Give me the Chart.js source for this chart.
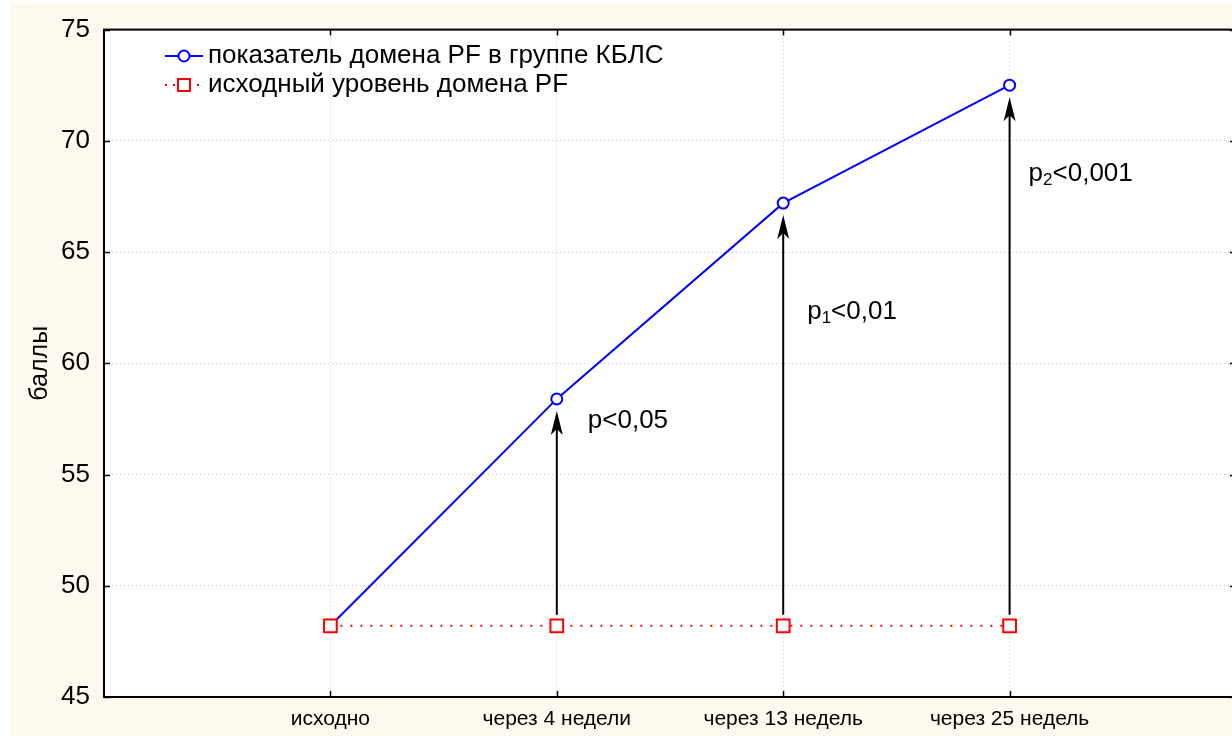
<!DOCTYPE html>
<html>
<head>
<meta charset="utf-8">
<script src="https://cdn.jsdelivr.net/npm/chart.js@4/dist/chart.umd.min.js"></script>
<style>
    html, body { margin: 0; padding: 0; overflow: hidden; background: #fdf9ef; }
    canvas { display: block; }
</style>
</head>
<body>
<canvas id="pfChart" width="1236" height="736"></canvas>
<script>
const categories = ['исходно', 'через 4 недели', 'через 13 недель', 'через 25 недель'];
const pfGroup = [48.2, 58.4, 67.2, 72.5];
const pfBaseline = [48.2, 48.2, 48.2, 48.2];
const yTicks = [45, 50, 55, 60, 65, 70, 75];
const seriesNames = ['показатель домена PF в группе КБЛС', 'исходный уровень домена PF'];

// arrows from baseline up to the group value, with their p-value notes
const arrowAt = [1, 2, 3];
const pSubs = ['', '1', '2'];
const pTails = ['<0,05', '<0,01', '<0,001'];
const pLevels = [57.4, 62.3, 68.5];

const FONT = 'Liberation Sans, Arial, sans-serif';
const BLUE = '#0000ff';
const RED = '#ff0000';

const points = (arr) => arr.map((v, i) => ({ x: i, y: v }));

// page + plot backgrounds
const backdrop = {
    id: 'backdrop',
    beforeDraw(chart) {
        const { ctx, chartArea: a, width, height } = chart;
        ctx.save();
        ctx.fillStyle = '#fdf9ef';
        ctx.fillRect(0, 0, width, height);
        ctx.fillStyle = '#ffffff';
        ctx.fillRect(0, 0, width, 3);
        ctx.fillRect(0, 0, 10, height);
        ctx.fillRect(a.left, a.top, a.right - a.left, a.bottom - a.top);
        ctx.restore();
    }
};

// frame with inward tick marks
const frame = {
    id: 'frame',
    afterDraw(chart) {
        const { ctx, chartArea: a, scales: { x, y } } = chart;
        ctx.save();
        ctx.strokeStyle = '#000';
        ctx.lineWidth = 2;
        ctx.strokeRect(a.left, a.top, a.right - a.left, a.bottom - a.top);
        ctx.lineWidth = 1.5;
        ctx.beginPath();
        categories.forEach((c, i) => {
            const px = Math.round(x.getPixelForValue(i)) + 0.5;
            ctx.moveTo(px, a.bottom); ctx.lineTo(px, a.bottom - 6);
            ctx.moveTo(px, a.top); ctx.lineTo(px, a.top + 6);
        });
        yTicks.forEach(v => {
            const py = Math.round(y.getPixelForValue(v)) + 0.5;
            ctx.moveTo(a.left, py); ctx.lineTo(a.left + 6, py);
            ctx.moveTo(a.right, py); ctx.lineTo(a.right - 6, py);
        });
        ctx.stroke();
        ctx.restore();
    }
};

// arrows, p-notes and the legend box
const notes = {
    id: 'notes',
    afterDatasetsDraw(chart) {
        const { ctx, scales: { x, y } } = chart;
        const textShift = [31, 24, 19]; // px right of each arrow
        ctx.save();
        ctx.strokeStyle = '#000';
        ctx.fillStyle = '#000';
        arrowAt.forEach((i, k) => {
            const px = x.getPixelForValue(i);
            const yStart = y.getPixelForValue(pfBaseline[i]) - 11;
            const tip = y.getPixelForValue(pfGroup[i]) + 12;
            ctx.lineWidth = 2;
            ctx.beginPath();
            ctx.moveTo(px, yStart);
            ctx.lineTo(px, tip + 15);
            ctx.stroke();
            ctx.beginPath();
            ctx.moveTo(px, tip);
            ctx.lineTo(px - 6, tip + 24);
            ctx.lineTo(px, tip + 18);
            ctx.lineTo(px + 6, tip + 24);
            ctx.closePath();
            ctx.fill();

            // p-value text
            const tx = px + textShift[k];
            const ty = y.getPixelForValue(pLevels[k]);
            ctx.textBaseline = 'middle';
            ctx.textAlign = 'left';
            ctx.font = '26px ' + FONT;
            ctx.fillText('p', tx, ty);
            let cx = tx + ctx.measureText('p').width;
            if (pSubs[k]) {
                ctx.font = '17px ' + FONT;
                ctx.fillText(pSubs[k], cx, ty + 6);
                cx += ctx.measureText(pSubs[k]).width;
                ctx.font = '26px ' + FONT;
            }
            ctx.fillText(pTails[k], cx, ty);
        });

        // legend
        const rows = [56, 85];
        ctx.font = '26px ' + FONT;
        ctx.textBaseline = 'middle';
        rows.forEach((ry, r) => {
            ctx.lineWidth = 2;
            if (r === 0) {
                ctx.strokeStyle = BLUE;
                ctx.setLineDash([]);
                ctx.beginPath(); ctx.moveTo(165, ry); ctx.lineTo(203, ry); ctx.stroke();
                ctx.fillStyle = '#fff';
                ctx.beginPath(); ctx.arc(184, ry, 5.5, 0, Math.PI * 2); ctx.fill(); ctx.stroke();
            } else {
                ctx.strokeStyle = RED;
                ctx.setLineDash([2, 6]);
                ctx.beginPath(); ctx.moveTo(165, ry); ctx.lineTo(203, ry); ctx.stroke();
                ctx.setLineDash([]);
                ctx.fillStyle = '#fff';
                ctx.fillRect(178, ry - 6, 12, 12);
                ctx.strokeRect(178, ry - 6, 12, 12);
            }
            ctx.fillStyle = '#000';
            ctx.fillText(seriesNames[r], 208, ry);
        });
        ctx.restore();
    }
};

const tickFont = { family: FONT, size: 26 };

const chart = new Chart(document.getElementById('pfChart'), {
    type: 'line',
    data: {
        datasets: [
            {
                label: seriesNames[0],
                data: points(pfGroup),
                borderColor: BLUE,
                borderWidth: 2,
                tension: 0,
                pointStyle: 'circle',
                pointRadius: 5.5,
                pointBorderWidth: 2,
                pointBackgroundColor: '#fff',
                pointBorderColor: BLUE,
                order: 2
            },
            {
                label: seriesNames[1],
                data: points(pfBaseline),
                borderColor: RED,
                borderWidth: 2,
                borderDash: [2, 8],
                tension: 0,
                pointStyle: 'rect',
                pointRadius: 9,
                pointBorderWidth: 2,
                pointBackgroundColor: '#fff',
                pointBorderColor: RED,
                order: 1
            }
        ]
    },
    options: {
        responsive: false,
        animation: false,
        layout: { autoPadding: false, padding: { top: 27, left: 0, right: 0, bottom: 0 } },
        plugins: {
            legend: { display: false },
            tooltip: { enabled: false }
        },
        scales: {
            x: {
                type: 'linear',
                min: -1,
                max: 4,
                afterBuildTicks: (s) => { s.ticks = categories.map((c, i) => ({ value: i })); },
                afterFit: (s) => { s.height = 39; },
                grid: { color: '#c8c8c8', lineWidth: 1, drawTicks: false },
                border: { display: false, dash: [1, 3] },
                ticks: {
                    color: '#000',
                    font: { family: FONT, size: 21 },
                    padding: 10,
                    maxRotation: 0,
                    autoSkip: false,
                    callback: (v) => categories[v] ?? ''
                }
            },
            y: {
                min: 45,
                max: 75,
                afterBuildTicks: (s) => { s.ticks = yTicks.map(v => ({ value: v })); },
                afterFit: (s) => { s.width = 104; },
                grid: { color: '#c8c8c8', lineWidth: 1, drawTicks: false },
                border: { display: false, dash: [1, 3] },
                ticks: { color: '#000', font: tickFont, padding: 14 },
                title: {
                    display: true,
                    text: 'баллы',
                    color: '#000',
                    font: { family: FONT, size: 25 },
                    padding: { top: 25, bottom: 0 }
                }
            }
        }
    },
    plugins: [backdrop, frame, notes]
});
</script>
</body>
</html>
